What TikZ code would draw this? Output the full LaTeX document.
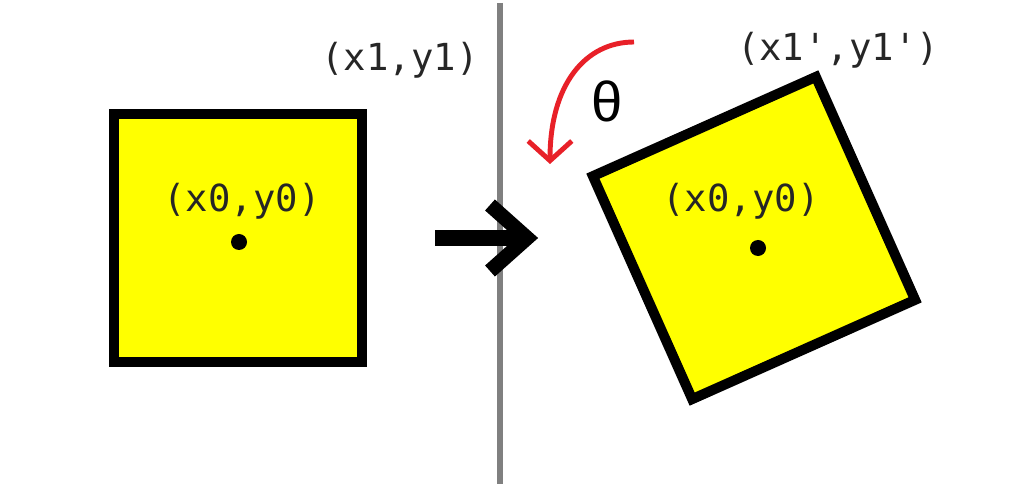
\documentclass[tikz,border=0pt]{standalone}
\usepackage{fontspec}
\newfontfamily\codefont{DejaVu Sans Mono}
\newfontfamily\greekfont{Liberation Sans}
\usetikzlibrary{arrows.meta}
\usepackage{xcolor}

\definecolor{boxyellow}{RGB}{255,255,0}
\definecolor{arcred}{RGB}{232,32,40}
\definecolor{divgray}{RGB}{128,128,128}

\tikzset{
	sqbox/.style={draw=black, line width=7.1pt, fill=boxyellow, minimum size=6.2cm, inner sep=0pt},
	pt/.style={circle, fill=black, minimum size=0.4cm, inner sep=0pt},
	coord/.style={font=\codefont\fontsize{26.5}{26.5}\selectfont, text=black!85, inner sep=0pt}
}

\begin{document}
\begin{tikzpicture}[x=0.025cm, y=-0.025cm]
	\useasboundingbox[fill=white] (0,0) rectangle (1024,484);
	
	% divider
	\coordinate (divtop) at (500,3);
	\coordinate (divbot) at (500,484);
	\draw[divgray, line width=4.3pt] (divtop) -- (divbot);
	
	% original square
	\node[sqbox] (sqA) at (238,238) {};
	\node[pt] (dotA) at (239,242) {};
	\node[coord] (cenA) at (242,201) {(x0,y0)};
	\node[coord] (cornA) at (400,60) {(x1,y1)};
	
	% rotated square
	\node[sqbox, minimum size=6.1cm, rotate=24] (sqB) at (754,238) {};
	\node[pt] (dotB) at (758,248) {};
	\node[coord] (cenB) at (741,201) {(x0,y0)};
	\node[coord] (cornB) at (838,50) {(x1',y1')};
	
	% transform arrow
	\coordinate (arrS) at (435,238);
	\coordinate (arrE) at (522,238);
	\draw[black, line width=11.5pt] (arrS) -- (arrE);
	\draw[black, line width=10.5pt, miter limit=10] (490,205) -- (527,238) -- (490,271);
	
	% rotation angle
	\coordinate (rotS) at (634,42);
	\coordinate (rotE) at (550,164);
	\draw[arcred, line width=3.5pt, -{Straight Barb[length=14pt, width=31pt]}]
		(rotS) .. controls (585,42) and (550,85) .. (rotE);
	\node[font=\greekfont\fontsize{40}{40}\selectfont, text=black, inner sep=0pt] (ang) at (607,101) {θ};
	
\end{tikzpicture}
\end{document}
